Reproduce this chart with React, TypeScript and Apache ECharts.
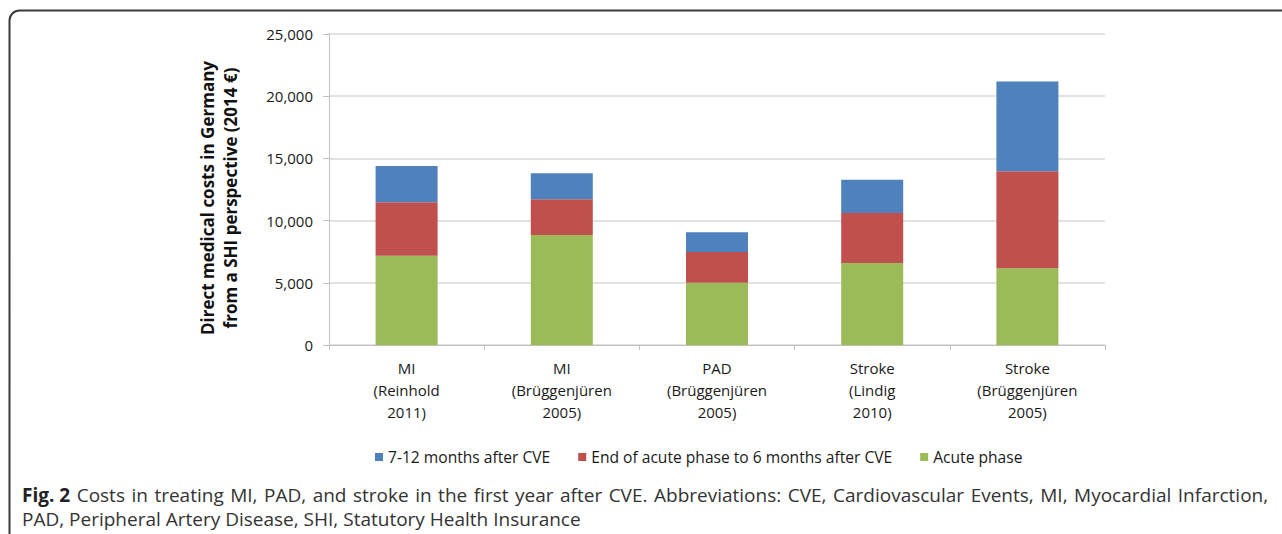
import React, { useEffect, useRef } from "react";
import * as echarts from "echarts";

const categories = [
  "MI\n(Reinhold\n2011)",
  "MI\n(Brüggenjüren\n2005)",
  "PAD\n(Brüggenjüren\n2005)",
  "Stroke\n(Lindig\n2010)",
  "Stroke\n(Brüggenjüren\n2005)",
];
const acutePhase = [7180, 8840, 5010, 6590, 6165];
const endAcuteTo6Months = [4290, 2870, 2466, 4020, 7798];
const months7to12 = [2918, 2090, 1583, 2677, 7225];
const seriesNames = [
  "7-12 months after CVE",
  "End of acute phase to 6 months after CVE",
  "Acute phase",
];
const yTicks = { min: 0, max: 25000, interval: 5000 };
const yTitle = "Direct medical costs in Germany\nfrom a SHI perspective (2014 €)";
const captionBold = "Fig. 2";
const captionLine1 =
  "Costs in treating MI, PAD, and stroke in the first year after CVE. Abbreviations: CVE, Cardiovascular Events, MI, Myocardial Infarction,";
const captionLine2 = "PAD, Peripheral Artery Disease, SHI, Statutory Health Insurance";

const FONT = "'Open Sans', 'DejaVu Sans', sans-serif";

export default function App() {
  const ref = useRef<HTMLDivElement>(null);
  useEffect(() => {
    document.body.style.margin = "0";
    const chart = echarts.init(ref.current!, undefined, { renderer: "svg" });
    const colors = { blue: "#4f81bd", red: "#c0504d", green: "#9bbb59" };
    const justified =
      `{b|${captionBold}}` +
      captionLine1
        .split(" ")
        .map((w) => `{s| }{r|${w}}`)
        .join("");
    chart.setOption({
      animation: false,
      textStyle: { fontFamily: FONT },
      grid: { left: 329, right: 177, top: 34, bottom: 189, containLabel: false },
      legend: {
        data: seriesNames,
        left: 375,
        top: 449,
        padding: 0,
        icon: "rect",
        itemWidth: 8,
        itemHeight: 8,
        itemGap: 28,
        textStyle: { fontSize: 15.6, color: "#1a1a1a", fontFamily: FONT },
      },
      xAxis: {
        type: "category",
        data: categories,
        axisLine: { show: true, lineStyle: { color: "#c0c0c0", width: 1 } },
        axisTick: { show: true, length: 5, lineStyle: { color: "#c0c0c0" } },
        axisLabel: {
          interval: 0,
          margin: 12,
          fontSize: 15,
          lineHeight: 22,
          color: "#1a1a1a",
          fontFamily: FONT,
        },
      },
      yAxis: {
        type: "value",
        min: yTicks.min,
        max: yTicks.max,
        interval: yTicks.interval,
        axisLine: { show: true, lineStyle: { color: "#c0c0c0", width: 1 } },
        axisTick: { show: true, length: 6, lineStyle: { color: "#c0c0c0" } },
        splitLine: { show: true, lineStyle: { color: "#d9d9d9", width: 1.5 } },
        axisLabel: {
          margin: 16,
          fontSize: 15,
          color: "#1a1a1a",
          fontFamily: FONT,
          formatter: (v: number) => v.toLocaleString("en-US"),
        },
      },
      series: [
        {
          name: seriesNames[2],
          type: "bar",
          stack: "total",
          data: acutePhase,
          barWidth: 62,
          itemStyle: { color: colors.green },
        },
        {
          name: seriesNames[1],
          type: "bar",
          stack: "total",
          data: endAcuteTo6Months,
          barWidth: 62,
          itemStyle: { color: colors.red },
        },
        {
          name: seriesNames[0],
          type: "bar",
          stack: "total",
          data: months7to12,
          barWidth: 62,
          itemStyle: { color: colors.blue },
        },
      ],
      graphic: [
        {
          type: "rect",
          shape: { x: 9.5, y: 10.5, width: 1400, height: 700, r: 10 },
          style: { fill: "none", stroke: "#3a3a3a", lineWidth: 2 },
          silent: true,
        },
        {
          type: "text",
          x: 219,
          y: 198,
          rotation: Math.PI / 2,
          style: {
            text: yTitle,
            font: `bold 17px ${FONT}`,
            fill: "#111",
            textAlign: "center",
            textVerticalAlign: "middle",
            lineHeight: 23,
          },
        },
        {
          type: "text",
          x: 22,
          y: 495,
          style: {
            text: justified,
            rich: {
              b: { font: `bold 19px ${FONT}`, fill: "#222" },
              r: { font: `19px ${FONT}`, fill: "#333" },
              s: { font: `19px ${FONT}`, fill: "#333", width: 6.5 },
            },
            textVerticalAlign: "middle",
          },
        },
        {
          type: "text",
          x: 22,
          y: 519,
          style: {
            text: captionLine2,
            font: `19px ${FONT}`,
            fill: "#333",
            textVerticalAlign: "middle",
          },
        },
      ],
    });
    return () => chart.dispose();
  }, []);
  return <div ref={ref} style={{ width: 1282, height: 534 }} />;
}
